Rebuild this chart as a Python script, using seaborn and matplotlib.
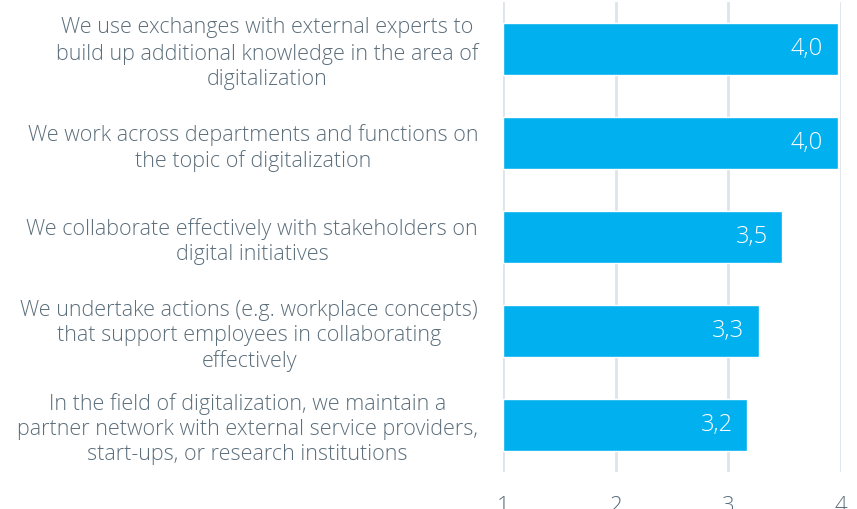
import matplotlib
matplotlib.use("Agg")
import matplotlib.pyplot as plt
import seaborn as sns
import pandas as pd

# chart data
statements = [
    "We use exchanges with external experts to\nbuild up additional knowledge in the area of\ndigitalization",
    "We work across departments and functions on\nthe topic of digitalization",
    "We collaborate effectively with stakeholders on\ndigital initiatives",
    "We undertake actions (e.g. workplace concepts)\nthat support employees in collaborating\neffectively",
    "In the field of digitalization, we maintain a\npartner network with external service providers,\nstart-ups, or research institutions",
]
scores = [3.97, 3.97, 3.48, 3.27, 3.17]
score_labels = ["4,0", "4,0", "3,5", "3,3", "3,2"]
x_ticks = [1, 2, 3, 4]

df = pd.DataFrame({"statement": statements, "score": scores})

sns.set_theme(style="white")
plt.rcParams["font.family"] = ["Open Sans", "DejaVu Sans"]

text_col = "#5b6e7b"
bar_col = "#00b0ef"
grid_col = "#dde4ea"

fig = plt.figure(figsize=(8.57, 5.09), dpi=100)
ax = fig.add_axes([503 / 857, 1 - 472 / 509, (841 - 503) / 857, 470 / 509])

# bars start at 1, so plot the distance from 1
sns.barplot(data=df.assign(width=df["score"] - 1), x="width", y="statement",
            orient="h", color=bar_col, saturation=1, width=0.55, ax=ax,
            left=1)

ax.set_xlim(1, 4)
ax.set_ylim(4.5, -0.5)
ax.set_xticks(x_ticks)
ax.set_xticklabels([str(t) for t in x_ticks], fontsize=16, color=text_col,
                   fontweight="light")
ax.tick_params(axis="x", length=0, pad=17)
ax.tick_params(axis="y", length=0, pad=18)
for lab in ax.get_yticklabels():
    lab.set_fontsize(15.5)
    lab.set_color(text_col)
    lab.set_fontweight("light")
    lab.set_multialignment("center")
    lab.set_linespacing(1.25)

for x in x_ticks:
    ax.axvline(x, color=grid_col, lw=2, zorder=0)

for i, (v, s) in enumerate(zip(scores, score_labels)):
    ax.text(v - 0.13, i, s, ha="right", va="center", color="white",
            fontsize=17, fontweight="light")

ax.set_xlabel("")
ax.set_ylabel("")
sns.despine(ax=ax, left=True, bottom=True)

fig.savefig("out.png", dpi=100)
